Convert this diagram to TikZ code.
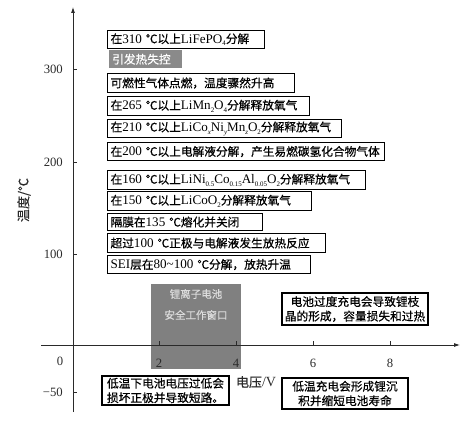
\documentclass[tikz,border=0pt]{standalone}
\usepackage{fontspec}
\setmainfont{Noto Sans CJK SC}[RawFeature={embolden=0.5}]
\newfontfamily\tnr[Scale=1.12]{Liberation Serif}
\newfontfamily\tnrplain{Liberation Serif}
\usetikzlibrary{arrows.meta}
\newcommand\latn[1]{{\tnr #1}}
\newcommand\lsub[1]{\raisebox{-2.6pt}{\fontsize{6.2}{7}\selectfont #1}}
\definecolor{axisc}{HTML}{2A2A2A}
\definecolor{grayA}{HTML}{8A8A8A}
\definecolor{grayB}{HTML}{808080}
\definecolor{wintxt}{HTML}{DCDCDC}
\tikzset{
  tbox/.style={draw=black, line width=1.1pt, anchor=north west, inner xsep=3pt, inner ysep=0pt,
    align=left, font=\fontsize{11.7}{14}\selectfont},
  cbox/.style={draw=black, line width=1.1pt, inner sep=0pt, align=center,
    font=\fontsize{11.7}{14.5}\selectfont},
  axisline/.style={draw=axisc, line width=0.8pt},
  ticklab/.style={font=\tnrplain\fontsize{12.7}{14}\selectfont, text=axisc, inner sep=0pt},
}
\begin{document}
\begin{tikzpicture}[x=1pt,y=-1pt]
\useasboundingbox (0,0) rectangle (465,435);

% safe operating window (behind axes)
\node[fill=grayB, anchor=north west, minimum width=90pt, minimum height=85pt, inner sep=0pt] (win) at (151,284) {};
\node[text=wintxt, align=center, inner sep=0pt, font=\fontsize{10.5}{21}\selectfont] (wintext) at (196,304.5) {锂离子电池\\安全工作窗口};

% axes
\coordinate (ybot) at (73,412);
\coordinate (ytop) at (73,7);
\coordinate (xleft) at (41,345);
\coordinate (xright) at (460,345);
\draw[axisline, -{Latex[length=6pt,width=4pt]}] (ybot) -- (ytop);
\draw[axisline, -{Latex[length=6pt,width=4pt]}] (xleft) -- (xright);

% y ticks
\foreach \yy/\lab in {69/300, 162/200, 254/100, 392/{−50}}{
  \draw[axisline] (73,\yy) -- (77,\yy);
  \node[ticklab, anchor=east] at (63,\yy) {\lab};
}
\node[ticklab] (zero) at (60,361) {0};
% x ticks
\foreach \xx/\lab in {159/2, 236/4, 313/6, 390/8}{
  \draw[axisline] (\xx,345) -- (\xx,341);
  \node[ticklab] at (\xx,363) {\lab};
}

% axis labels
\node[font=\fontsize{13}{15}\selectfont, text=axisc, inner sep=0pt] (xlab) at (256,382) {电压{\tnrplain\fontsize{14}{15}\selectfont/V}};
\node[font=\fontsize{13}{15}\selectfont, text=axisc, inner sep=0pt, rotate=90] (ylab) at (24,200) {温度/℃};

% event boxes
\node[tbox, text width=151pt, minimum height=18pt] (b310) at (107,30) {\mbox{在\latn{310~}℃以上\latn{LiFePO\lsub{4}}分解}};
\node[fill=grayA, text=white, anchor=north west, inner xsep=3pt, inner ysep=0pt, minimum height=18pt,
  text width=67pt, align=left, font=\fontsize{11.7}{14}\selectfont] (runaway) at (109,50) {引发热失控};
\node[tbox, text width=181pt, minimum height=19pt] (bign) at (107,73) {\mbox{可燃性气体点燃，温度骤然升高}};
\node[tbox, text width=196pt, minimum height=19pt] (b265) at (107,96) {\mbox{在\latn{265~}℃以上\latn{LiMn\lsub{2}O\lsub{4}}分解释放氧气}};
\node[tbox, text width=228pt, minimum height=18pt] (b210) at (107,119) {\mbox{在\latn{210~}℃以上\latn{LiCo\lsub{\textit{x}}Ni\lsub{\textit{y}}Mn\lsub{\textit{z}}O\lsub{2}}分解释放氧气}};
\node[tbox, text width=271pt, minimum height=18pt] (b200) at (107,142) {\mbox{在\latn{200~}℃以上电解液分解，产生易燃碳氢化合物气体}};
\node[tbox, text width=252pt, minimum height=19pt] (b160) at (107,170) {\mbox{在\latn{160~}℃以上\latn{LiNi\lsub{0.5}Co\lsub{0.15}Al\lsub{0.05}O\lsub{2}}分解释放氧气}};
\node[tbox, text width=198pt, minimum height=19pt] (b150) at (107,191) {\mbox{在\latn{150~}℃以上\latn{LiCoO\lsub{2}}分解释放氧气}};
\node[tbox, text width=149pt, minimum height=17pt] (b135) at (107,213) {\mbox{隔膜在\latn{135~}℃熔化并关闭}};
\node[tbox, text width=212pt, minimum height=19pt] (b100) at (107,233) {\mbox{超过\latn{100~}℃正极与电解液发生放热反应}};
\node[tbox, text width=197pt, minimum height=18pt] (bsei) at (107,255) {\mbox{\latn{SEI}层在\latn{80\textasciitilde100~}℃分解，放热升温}};

% voltage notes
\node[cbox, minimum width=146pt, minimum height=32pt] (over) at (355,309) {电池过度充电会导致锂枝\\晶的形成，容量损失和过热};
\node[cbox, minimum width=127pt, minimum height=29pt] (lowv) at (165.5,390.5) {低温下电池电压过低会\\损坏正极并导致短路。};
\node[cbox, minimum width=126pt, minimum height=31pt] (lowc) at (345,393.5) {低温充电会形成锂沉\\积并缩短电池寿命};
\end{tikzpicture}
\end{document}
